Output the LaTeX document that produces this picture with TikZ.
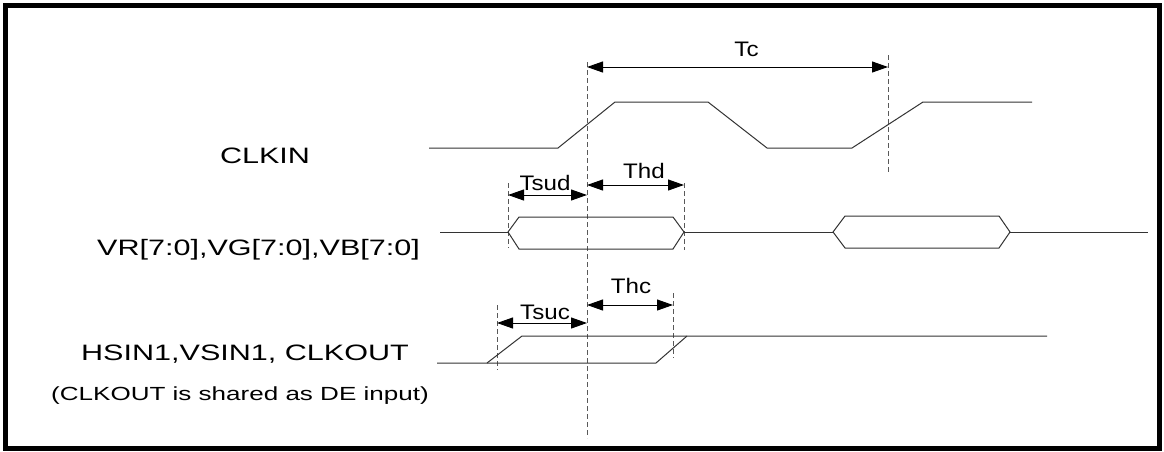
\documentclass[tikz,border=0pt]{standalone}
\usepackage{fontspec}
\setmainfont{Liberation Sans}
\newfontfamily\sigfont[FakeStretch=1.37]{Liberation Sans}
\newfontfamily\tfont[FakeStretch=1.15]{Liberation Sans}
\usetikzlibrary{arrows.meta}
\begin{document}
\begin{tikzpicture}[x=1pt,y=-1pt,
  sig/.style={draw=black!80,line width=1pt,line join=miter},
  guide/.style={draw=black!65,line width=1pt,dash pattern=on 5pt off 3pt},
  dim/.style={draw=black,line width=1pt,{Triangle[length=16pt,width=11pt]}-{Triangle[length=16pt,width=11pt]}},
  siglabel/.style={font=\sigfont\fontsize{22.3}{26}\selectfont,anchor=base,inner sep=0pt},
  small/.style={font=\sigfont\fontsize{19}{23}\selectfont,anchor=base,inner sep=0pt},
  tlabel/.style={font=\tfont\fontsize{21}{25}\selectfont,anchor=base,inner sep=0pt}]
\useasboundingbox (0,0) rectangle (1164,451);
\fill[white] (0,0) rectangle (1164,451);
% frame
\draw[line width=5pt] (5.5,5.5) rectangle (1159,448.5);

% guide coordinates
\coordinate (m0) at (587,62);   \coordinate (m1) at (587,438);
\coordinate (c0) at (888,55);   \coordinate (c1) at (888,173);
\coordinate (sd0) at (508,183); \coordinate (sd1) at (508,248);
\coordinate (hd0) at (684,183); \coordinate (hd1) at (684,250);
\coordinate (sc0) at (497,305); \coordinate (sc1) at (497,370);
\coordinate (hc0) at (673,293); \coordinate (hc1) at (673,358);

\draw[guide] (m0) -- (m1);
\draw[guide] (c0) -- (c1);
\draw[guide] (sd0) -- (sd1);
\draw[guide] (hd0) -- (hd1);
\draw[guide] (sc0) -- (sc1);
\draw[guide] (hc0) -- (hc1);

% dimension arrows
\coordinate (tcA) at (587,67);  \coordinate (tcB) at (888,67);
\coordinate (sdA) at (508,195); \coordinate (sdB) at (587,195);
\coordinate (hdA) at (587,185); \coordinate (hdB) at (684,185);
\coordinate (scA) at (497,323); \coordinate (scB) at (587,323);
\coordinate (hcA) at (587,305); \coordinate (hcB) at (673,305);
\draw[dim] (tcA) -- (tcB);
\draw[dim] (sdA) -- (sdB);
\draw[dim] (hdA) -- (hdB);
\draw[dim] (scA) -- (scB);
\draw[dim] (hcA) -- (hcB);

\node[tlabel] (tc) at (746.5,56) {Tc};
\node[tlabel] (thd) at (644,178) {Thd};
\node[tlabel] (tsud) at (545,190) {Tsud};
\node[tlabel] (thc) at (631,293) {Thc};
\node[tlabel] (tsuc) at (545,319) {Tsuc};

% CLKIN
\draw[sig] (429,148) -- (558,148) -- (615,102) -- (708,102) -- (767,148) -- (852,148) -- (923,102) -- (1032,102);

% VR bus
\draw[sig] (440,232) -- (508,232);
\draw[sig] (508,232) -- (519,217) -- (673,217) -- (684,232) -- (673,249) -- (519,249) -- cycle;
\draw[sig] (684,232) -- (833,232);
\draw[sig] (833,232) -- (845,216) -- (999,216) -- (1010,232) -- (999,248) -- (845,248) -- cycle;
\draw[sig] (1010,232) -- (1148,232);

% HSIN
\draw[sig] (437,363) -- (656,363) -- (687,336);
\draw[sig] (487,363) -- (522,336) -- (1047,336);

% signal names
\node[siglabel] (clkin) at (265,163) {CLKIN};
\node[siglabel] (vr) at (258.5,255) {VR[7:0],VG[7:0],VB[7:0]};
\node[siglabel] (hs) at (245,360) {HSIN1,VSIN1, CLKOUT};
\node[small] (note) at (240,400) {(CLKOUT is shared as DE input)};
\end{tikzpicture}
\end{document}
